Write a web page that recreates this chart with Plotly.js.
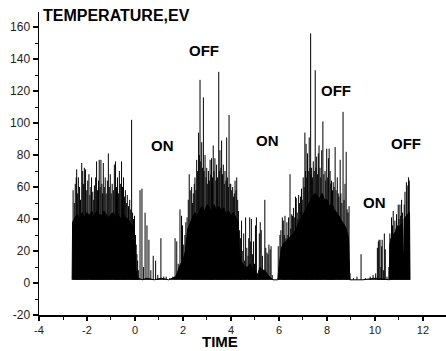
<!DOCTYPE html>
<html>
<head>
<meta charset="utf-8">
<script src="https://cdn.plot.ly/plotly-3.0.1.min.js"></script>
<style>html,body{margin:0;padding:0;background:#fff;}#chart{width:446px;height:351px;}</style>
</head>
<body>
<div id="chart"></div>
<script>
// ---- Data ----
const baseLevel = 2;

// dense core of the signal (solid black mass)
const coreTime = [-2.62,-2.60,-2.50,-2.40,-2.30,-2.20,-2.10,-2.00,-1.90,-1.80,
  -1.70,-1.60,-1.50,-1.40,-1.30,-1.20,-1.10,-1.00,-0.90,-0.80,
  -0.70,-0.60,-0.50,-0.40,-0.30,-0.20,-0.10,-0.03,0.02,0.08,
  0.15,0.30,0.50,0.80,1.10,1.40,1.60,1.70,1.80,1.90,
  2.00,2.10,2.20,2.30,2.40,2.50,2.60,2.70,2.80,2.90,
  3.00,3.10,3.20,3.30,3.40,3.50,3.60,3.70,3.80,3.90,
  4.00,4.10,4.20,4.30,4.35,4.40,4.50,4.60,4.70,4.80,
  4.90,5.00,5.10,5.20,5.30,5.40,5.50,5.60,5.75,5.95,
  6.00,6.10,6.20,6.30,6.40,6.50,6.60,6.70,6.80,6.90,
  7.00,7.10,7.20,7.30,7.40,7.50,7.60,7.70,7.80,7.90,
  8.00,8.10,8.20,8.30,8.40,8.50,8.60,8.70,8.80,8.90,
  8.95,9.50,10.00,10.50,10.60,10.62,10.70,10.80,10.90,11.00,
  11.10,11.15,11.17,11.20,11.22,11.30,11.35,11.44,11.46];
const coreTemp = [2,38,41,43,40,44,41,44,42,45,
  41,45,43,42,45,43,41,43,44,40,
  43,40,43,41,40,38,35,28,10,4,
  3,2,3,2,3,2,3,4,8,12,
  14,20,34,38,41,44,42,46,48,45,
  49,47,44,49,45,48,45,47,43,45,
  42,44,41,38,20,14,12,10,10,12,
  9,8,4,10,8,8,6,4,2,2,
  10,22,25,26,28,29,31,33,37,40,
  43,46,48,51,54,56,54,53,56,52,
  52,48,50,46,44,42,39,37,34,28,
  2,2,3,2,2,24,29,31,33,35,
  37,37,5,5,40,42,43,44,2];

// spikes (peaks) of the signal, region by region
const spikeTimeA = [-2.58,-2.53,-2.49,-2.45,-2.43,-2.39,-2.36,-2.31,-2.27,-2.22,
  -2.18,-2.14,-2.11,-2.06,-2.01,-1.97,-1.92,-1.88,-1.84,-1.81,
  -1.76,-1.72,-1.69,-1.64,-1.60,-1.56,-1.52,-1.49,-1.45,-1.42,
  -1.38,-1.35,-1.32,-1.28,-1.24,-1.20,-1.15,-1.11,-1.07,-1.03,
  -0.99,-0.95,-0.90,-0.86,-0.81,-0.77,-0.73,-0.69,-0.65,-0.61,
  -0.56,-0.52,-0.48,-0.44,-0.40,-0.36,-0.32,-0.27,-0.22,-0.18,
  -0.14,-0.10,-0.06];
const spikeTempA = [58,50,62,66,71,56,66,60,52,75,
  70,62,72,71,58,64,68,55,60,66,
  57,52,61,66,76,58,64,77,60,77,
  62,56,75,60,66,56,64,81,60,68,
  56,62,58,74,76,60,66,56,70,62,
  76,60,66,54,58,50,55,48,52,46,
  102,44,40];

const spikeTimeB = [-0.02,0.02,0.05,0.08,0.11,0.14,0.21,0.29,0.35,0.42,
  0.50,0.58,0.66,0.76,0.86,0.95,1.08,1.20,1.30,1.45,
  1.58,1.67,1.74,1.80,1.875,1.94,1.98,2.03,2.08,2.12,
  2.17];
const spikeTempB = [42,30,24,18,14,8,58,59,10,44,
  36,27,8,17,14,5,28,4,4,3,
  4,28,26,12,46,42,36,24,30,38,
  41];

const spikeTimeC = [2.22,2.26,2.30,2.36,2.40,2.43,2.47,2.50,2.54,2.57,
  2.61,2.65,2.68,2.71,2.74,2.78,2.81,2.85,2.88,2.92,
  2.96,2.99,3.03,3.06,3.10,3.13,3.16,3.19,3.23,3.26,
  3.29,3.33,3.37,3.40,3.44,3.49,3.51,3.54,3.58,3.61,
  3.65,3.68,3.72,3.75,3.79,3.82,3.86,3.89,3.92,3.96,
  3.99,4.03,4.07,4.11,4.14,4.17,4.21,4.24,4.28,4.31];
const spikeTempC = [52,68,58,60,50,56,62,66,58,77,
  70,94,80,127,76,88,72,116,70,80,
  66,72,62,70,64,77,68,78,66,86,
  70,78,64,74,66,132,70,83,72,89,
  68,74,62,70,64,91,66,60,105,62,
  62,58,60,54,56,64,58,66,52,45];

const spikeTimeD = [4.36,4.40,4.44,4.49,4.53,4.57,4.61,4.66,4.71,4.74,
  4.78,4.82,4.85,4.90,4.94,4.98,5.02,5.06,5.10,5.14,
  5.18,5.22,5.26,5.31,5.36,5.41,5.45,5.50,5.54,5.58,
  5.63,5.67,5.72];
const spikeTempD = [33,28,39,20,31,14,41,22,17,28,
  41,26,40,18,26,12,36,41,6,4,
  31,38,33,17,8,52,22,19,18,24,
  21,23,5];

const spikeTimeE = [5.97,6.04,6.08,6.14,6.18,6.22,6.25,6.29,6.33,6.37,
  6.40,6.46,6.49,6.53,6.56,6.61,6.64,6.69,6.72,6.76,
  6.79,6.82,6.86,6.90,6.94,6.97,7.01,7.05,7.08,7.11,
  7.13,7.16,7.19,7.22,7.26,7.29,7.32,7.34,7.36,7.40,
  7.43,7.47,7.51,7.54,7.57,7.61,7.64,7.67,7.71,7.74,
  7.78,7.83,7.87,7.92,7.95,7.99,8.03,8.06,8.09,8.13,
  8.16,8.19,8.23,8.26,8.30,8.34,8.38,8.43,8.47,8.50,
  8.55,8.58,8.62,8.67,8.71,8.75,8.80,8.84,8.88,8.92];
const spikeTempE = [23,30,33,41,39,30,42,28,38,30,
  41,68,34,43,42,47,41,54,53,44,
  40,55,50,54,59,52,66,60,94,70,
  87,66,81,70,91,72,156,68,72,66,
  76,70,133,72,79,68,81,86,72,66,
  83,101,68,70,64,84,66,78,84,70,
  62,64,58,63,60,85,58,66,56,54,
  77,56,50,107,52,62,82,46,44,48];

const spikeTimeF = [8.96,9.10,9.25,9.42,9.60,9.80,9.92,10.03,10.10,10.14,
  10.17,10.21,10.25,10.28,10.30,10.35,10.39,10.43,10.50,10.58,
  10.62,10.66,10.69,10.73,10.76,10.80,10.83,10.87,10.90,10.94,
  10.97,11.00,11.04,11.07,11.11,11.15,11.19,11.22,11.25,11.29,
  11.31,11.34,11.37,11.40,11.43];
const spikeTempF = [6,3,4,18,3,4,5,6,22,26,
  27,27,10,23,27,8,31,21,4,10,
  31,28,41,36,45,30,39,34,43,36,
  49,40,49,42,52,44,20,49,57,12,
  63,40,61,66,64];

const xTickVals = [-4,-2,0,2,4,6,8,10,12];
const xTickText = ['-4','-2','0','2','4','6','8','10','12'];
const yTickVals = [-20,0,20,40,60,80,100,120,140,160];
const yTickText = ['-20','0','20','40','60','80','100','120','140','160'];

const stateLabels = ['ON','OFF','ON','OFF','ON','OFF'];
const stateTime   = [1.15, 2.875, 5.52, 8.38, 9.98, 11.29];
const stateTemp   = [86.2, 145.6, 88.8, 120.6, 50.6, 87.2];

// ---- Build traces ----
const spikeTime = [].concat(spikeTimeA, spikeTimeB, spikeTimeC, spikeTimeD, spikeTimeE, spikeTimeF);
const spikeTemp = [].concat(spikeTempA, spikeTempB, spikeTempC, spikeTempD, spikeTempE, spikeTempF);
const sx = [], sy = [];
for (let i = 0; i < Math.min(spikeTime.length, spikeTemp.length); i++) {
  sx.push(spikeTime[i], spikeTime[i], null);
  sy.push(baseLevel, spikeTemp[i], null);
}

const traces = [
  {x:[coreTime[0], coreTime[coreTime.length-1]], y:[baseLevel, baseLevel], mode:'lines',
   line:{width:0, color:'#000'}, hoverinfo:'skip', showlegend:false},
  {x:coreTime, y:coreTemp, mode:'lines', fill:'tonexty', fillcolor:'#000',
   line:{width:1, color:'#000'}, hoverinfo:'skip', showlegend:false},
  {x:sx, y:sy, mode:'lines', connectgaps:false, line:{width:1, color:'#000'},
   hoverinfo:'skip', showlegend:false}
];

const fontFam = 'Liberation Sans, Arial, sans-serif';
const annotations = stateLabels.map((t, i) => ({
  text:'<b>'+t+'</b>', x:stateTime[i], y:stateTemp[i], xref:'x', yref:'y',
  showarrow:false, xanchor:'center', yanchor:'middle',
  font:{family:fontFam, size:15, color:'#000'}
}));
annotations.push({text:'<b>TEMPERATURE,EV</b>', xref:'paper', yref:'paper', x:0.006, y:0.988,
  xanchor:'left', yanchor:'middle', showarrow:false, font:{family:fontFam, size:16, color:'#000'}});
annotations.push({text:'<b>TIME</b>', xref:'x', yref:'paper', x:3.54, y:-0.1185,
  xanchor:'center', yanchor:'bottom', showarrow:false, borderpad:0,
  font:{family:fontFam, size:15, color:'#000'}});

const axisCommon = {
  ticks:'outside', ticklen:5, tickwidth:1.5, tickcolor:'#000',
  showline:true, linecolor:'#000', linewidth:1.5,
  showgrid:false, zeroline:false, fixedrange:true
};

const layout = {
  width:446, height:351,
  margin:{l:39, r:0, t:12, b:36, pad:0},
  paper_bgcolor:'#fff', plot_bgcolor:'#fff',
  showlegend:false,
  font:{family:fontFam, size:12, color:'#222'},
  xaxis:Object.assign({}, axisCommon, {
    range:[-4, 12.96], tickmode:'array', tickvals:xTickVals, ticktext:xTickText,
    ticklen:4,
    tickfont:{family:fontFam, size:11, color:'#222'},
    minor:{tick0:0, dtick:1, ticks:'outside', ticklen:3, tickcolor:'#000', tickwidth:1}
  }),
  yaxis:Object.assign({}, axisCommon, {
    range:[-20, 169.4], tickmode:'array', tickvals:yTickVals, ticktext:yTickText,
    tickfont:{family:fontFam, size:12, color:'#222'},
    minor:{tick0:0, dtick:10, ticks:'outside', ticklen:3, tickcolor:'#000', tickwidth:1}
  }),
  annotations:annotations
};

Plotly.newPlot('chart', traces, layout, {displayModeBar:false, staticPlot:true});
</script>
</body>
</html>
